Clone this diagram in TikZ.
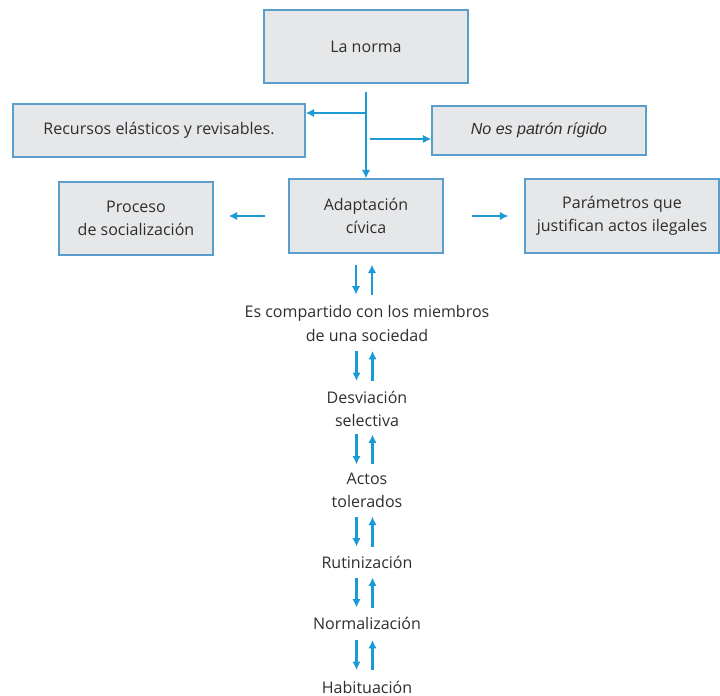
\documentclass[tikz,border=0pt]{standalone}
\usepackage{fontspec}
\setmainfont{Open Sans}
\newfontfamily\arialfont{Liberation Sans}
\usetikzlibrary{arrows.meta,positioning,calc}

\definecolor{boxfill}{HTML}{E6E7E9}
\definecolor{boxline}{HTML}{5A9FCC}
\definecolor{flowblue}{HTML}{1B9AD6}
\definecolor{inkgray}{HTML}{2E2E2E}

\begin{document}
\begin{tikzpicture}[
  x=0.025cm, y=-0.025cm,
  >={Latex[length=6pt,width=6pt]},
  every node/.style={font=\fontsize{11.4}{16.4}\selectfont, text=inkgray, align=center},
  box/.style={draw=boxline, fill=boxfill, line width=0.9pt, inner sep=0pt},
  steptext/.style={inner sep=0pt},
  flow/.style={->, draw=flowblue, line width=1.5pt}
]
\useasboundingbox (0,0) rectangle (720,695);

% TOP BOXES
\node (norma)    [box, minimum width=5.1cm,  minimum height=1.825cm] at (366,46.5) {La norma};
\node (recursos) [box, minimum width=7.3cm,  minimum height=1.325cm] at (159,130.5) {Recursos elásticos y revisables.};
\node (noes)     [box, minimum width=5.35cm, minimum height=1.225cm] at (539,130.5)
                 {\arialfont\itshape No es patrón rígido};

% MIDDLE ROW
\node (adapt)   [box, minimum width=3.85cm, minimum height=1.85cm]  at (366,216)   {Adaptación \\ cívica};
\node (proceso) [box, minimum width=3.85cm, minimum height=1.825cm] at (136,218.5) {Proceso \\ de socialización};
\node (param)   [box, minimum width=4.85cm, minimum height=1.85cm]  at (622,216)
                {Parámetros que \\ justifican actos ilegales};

% CHAIN
\node (t1) [steptext] at (367,323.5) {Es compartido con los miembros \\ de una sociedad};
\node (t2) [steptext] at (367,408.5) {Desviación \\ selectiva};
\node (t3) [steptext] at (367,490)   {Actos \\ tolerados};
\node (t4) [steptext] at (367,562)   {Rutinización};
\node (t5) [steptext] at (367,623)   {Normalización};
\node (t6) [steptext] at (367,687)   {Habituación};

% TRUNK
\coordinate (split)    at ($(norma.south)+(0,8)$);
\coordinate (lefttee)  at (366,113);
\coordinate (righttee) at (370,139);
\draw[flow] (split) -- (adapt.north);
\draw[flow] (lefttee) -- (lefttee -| recursos.east);
\draw[flow] (righttee) -- (righttee -| noes.west);

\draw[flow, shorten <=0.575cm, shorten >=0.375cm] (adapt.west) -- (proceso.east |- adapt.west);
\draw[flow, shorten <=0.7cm,   shorten >=0.4cm]   (adapt.east) -- (param.west |- adapt.east);

\foreach \upper/\lower in {adapt/t1, t1/t2, t2/t3, t3/t4, t4/t5, t5/t6}{
  \coordinate (mid) at ($(\upper.south)!0.5!(\lower.north)$);
  \draw[flow] ($(mid)+(-10.5,-15)$) -- ($(mid)+(-10.5,15)$);
  \draw[flow] ($(mid)+(5.5,15)$) -- ($(mid)+(5.5,-15)$);
}
\end{tikzpicture}
\end{document}
